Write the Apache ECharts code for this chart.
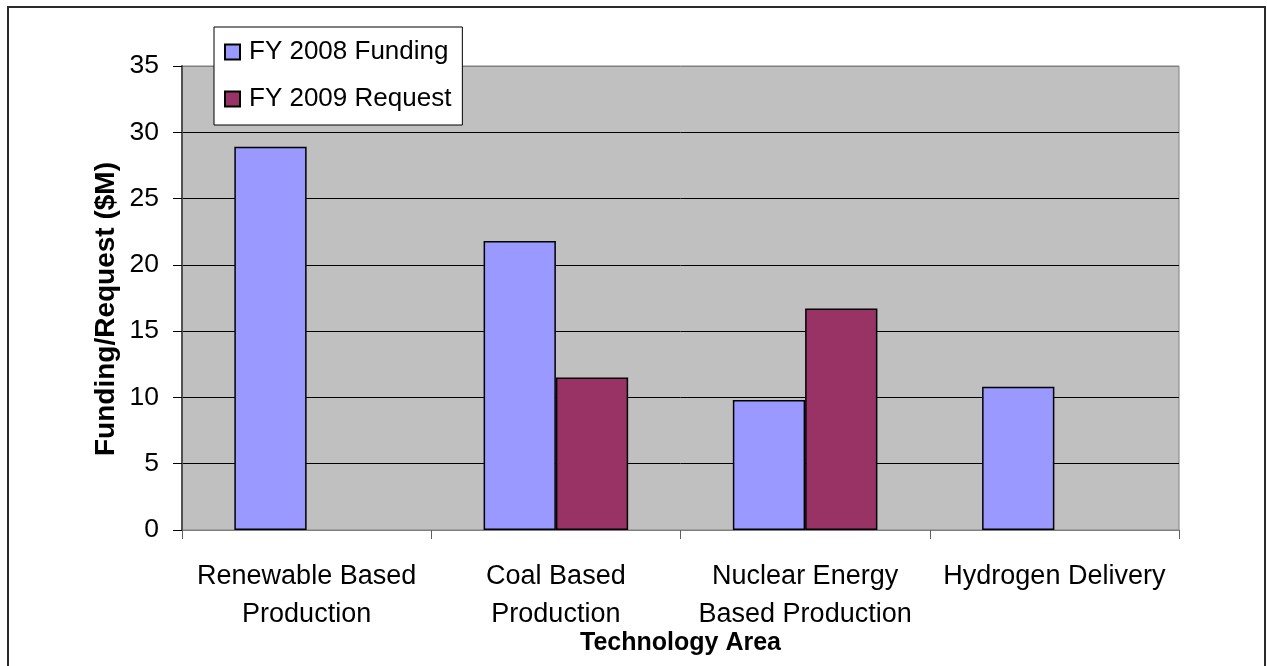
<!DOCTYPE html>
<html>
<head>
<meta charset="utf-8">
<script src="https://cdn.jsdelivr.net/npm/echarts@6/dist/echarts.min.js"></script>
<style>
html,body{margin:0;padding:0;background:#fff;}
#chart{width:1267px;height:666px;}
</style>
</head>
<body>
<div id="chart"></div>
<script>
var categories = ['Renewable Based\nProduction', 'Coal Based\nProduction', 'Nuclear Energy\nBased Production', 'Hydrogen Delivery'];
var fy2008Funding = [28.9, 21.8, 9.8, 10.8];
var fy2009Request = [null, 11.5, 16.7, null];
var seriesNames = ['FY 2008 Funding', 'FY 2009 Request'];
var yTicks = {min: 0, max: 35, interval: 5};

var FONT = '"Liberation Sans", Arial, sans-serif';
var chart = echarts.init(document.getElementById('chart'));
chart.setOption({
  backgroundColor: '#ffffff',
  animation: false,
  textStyle: {fontFamily: FONT, color: '#000'},
  graphic: [{
    type: 'rect',
    shape: {x: 8, y: 7, width: 1257, height: 672},
    style: {fill: 'none', stroke: '#2a2a2a', lineWidth: 2},
    silent: true
  }],
  legend: {
    orient: 'vertical',
    left: 214,
    top: 27,
    padding: [10, 11, 11, 10],
    itemGap: 17,
    itemWidth: 15,
    itemHeight: 15,
    icon: 'rect',
    backgroundColor: '#ffffff',
    borderColor: '#000000',
    borderWidth: 1,
    borderRadius: 0,
    textStyle: {fontFamily: FONT, fontSize: 26, color: '#000', lineHeight: 30, padding: [0, 0, 0, 4]},
    data: seriesNames
  },
  grid: {
    left: 182, right: 88, top: 66, bottom: 136,
    containLabel: false,
    outerBoundsMode: 'none',
    show: true,
    backgroundColor: '#C0C0C0',
    borderColor: '#808080',
    borderWidth: 1
  },
  xAxis: {
    type: 'category',
    data: categories,
    name: 'Technology Area',
    nameLocation: 'middle',
    nameGap: 101,
    nameMoveOverlap: false,
    nameTextStyle: {fontFamily: FONT, fontSize: 25, fontWeight: 'bold', color: '#000'},
    axisLine: {show: true, lineStyle: {color: '#808080', width: 1}},
    axisTick: {show: true, length: 9, lineStyle: {color: '#606060', width: 1}},
    axisLabel: {fontFamily: FONT, fontSize: 27, color: '#000', margin: 28, lineHeight: 38, interval: 0},
    splitLine: {show: false}
  },
  yAxis: {
    type: 'value',
    min: yTicks.min,
    max: yTicks.max,
    interval: yTicks.interval,
    name: 'Funding/Request ($M)',
    nameLocation: 'middle',
    nameRotate: 90,
    nameGap: 62,
    nameMoveOverlap: false,
    nameTextStyle: {fontFamily: FONT, fontSize: 28, fontWeight: 'bold', color: '#000', padding: [0, 22, 0, 0]},
    axisLine: {show: true, lineStyle: {color: '#505050', width: 2}},
    axisTick: {show: true, inside: false, length: 9, lineStyle: {color: '#000', width: 1}},
    axisLabel: {fontFamily: FONT, fontSize: 26.5, color: '#000', margin: 23},
    splitLine: {show: true, lineStyle: {color: ['#808080', '#000', '#000', '#000', '#000', '#000', '#000', '#808080'], width: 1}}
  },
  series: [{
    name: seriesNames[0],
    type: 'bar',
    data: fy2008Funding,
    barGap: '0%',
    barCategoryGap: '42%',
    itemStyle: {color: '#9999FF', borderColor: '#000', borderWidth: 1.5}
  }, {
    name: seriesNames[1],
    type: 'bar',
    data: fy2009Request,
    barGap: '0%',
    barCategoryGap: '42%',
    itemStyle: {color: '#993366', borderColor: '#000', borderWidth: 1.5}
  }]
});
</script>
</body>
</html>
